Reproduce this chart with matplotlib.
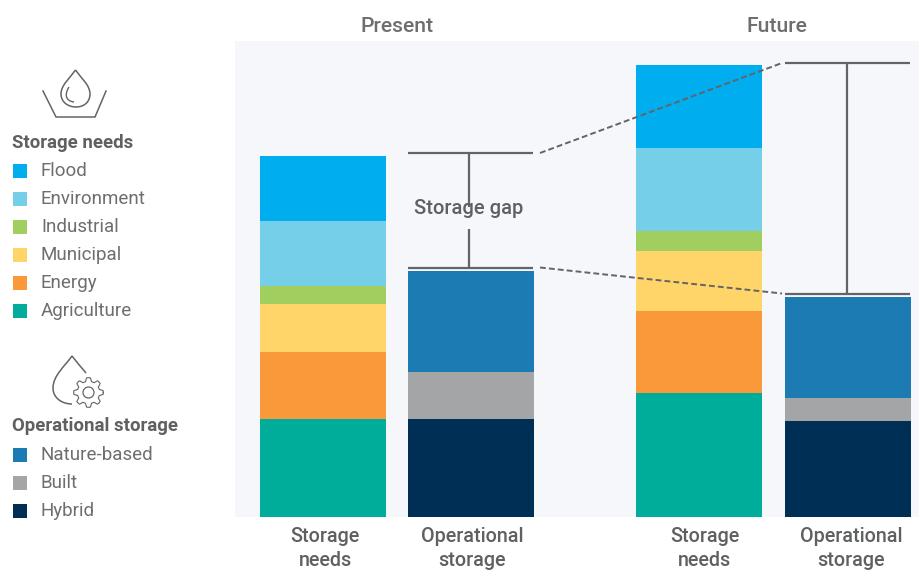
import numpy as np
import matplotlib
matplotlib.use("Agg")
import matplotlib.pyplot as plt
from matplotlib.patches import PathPatch, Circle, Rectangle
from matplotlib.path import Path

plt.rcParams['font.family'] = ['Roboto', 'DejaVu Sans']

# --- data (heights, bottom to top) ---
needs_names = ['Agriculture', 'Energy', 'Municipal', 'Industrial', 'Environment', 'Flood']
needs_colors = ['#00AC9A', '#F99939', '#FFD468', '#A0CF5F', '#76CFE8', '#00AEEF']
needs_present = [98, 67, 48, 18, 65, 65]
needs_future = [124, 82, 60, 20, 83, 83]

oper_names = ['Hybrid', 'Built', 'Nature-based']
oper_colors = ['#002F56', '#A3A5A6', '#1C7BB3']
oper_present = [98, 47, 101]
oper_future = [96, 23, 101]

bar_x = [323, 471, 699, 848]
tick_x = [325, 472, 704.5, 851]
tick_labels = ['Storage\nneeds', 'Operational\nstorage', 'Storage\nneeds', 'Operational\nstorage']
gap_present = (249.5, 364)
gap_future = (223.5, 454)

GREY = '#5E6062'
LINE = '#636466'

W, H = 920, 570
fig = plt.figure(figsize=(W / 100, H / 100), dpi=100)

# main chart, one data unit is one pixel
ax = fig.add_axes([235 / W, 1 - 517 / H, (W - 235) / W, 476 / H])
ax.set_xlim(235, W)
ax.set_ylim(0, 476)
ax.set_facecolor('#F5F7FA')
for s in ax.spines.values():
    s.set_visible(False)
ax.set_yticks([])
ax.set_xticks(tick_x)
ax.set_xticklabels(tick_labels, fontsize=14.2, color=GREY, fontweight='medium', linespacing=1.3)
ax.tick_params(axis='x', length=0, pad=7.5)


def stack(x, values, colors):
    bottom = 0
    for v, c in zip(values, colors):
        ax.bar(x, v, width=126, bottom=bottom, color=c, linewidth=0)
        bottom += v
    return bottom


stack(bar_x[0], needs_present, needs_colors)
stack(bar_x[1], oper_present, oper_colors)
stack(bar_x[2], needs_future, needs_colors)
stack(bar_x[3], oper_future, oper_colors)

# --- gap brackets ---
lw = 1.6
ax.hlines(gap_present, 408.5, 533, color=LINE, lw=lw)
ax.vlines(bar_x[1] - 2, gap_present[1] - 54, gap_present[1], color=LINE, lw=lw)
ax.vlines(bar_x[1] - 2, gap_present[0], gap_present[0] + 39, color=LINE, lw=lw)
ax.text(468.5, 309, 'Storage gap', ha='center', va='center', fontsize=14.5, color=GREY, fontweight='medium')
ax.hlines(gap_future, 785.5, 910, color=LINE, lw=lw)
ax.vlines(bar_x[3] - 1, gap_future[0], gap_future[1], color=LINE, lw=lw)
ax.plot([540, 782], [gap_present[1], gap_future[1]], color=LINE, lw=1.4, dashes=(3, 1.6))
ax.plot([540, 782], [gap_present[0], gap_future[0]], color=LINE, lw=1.4, dashes=(3, 1.6))

# --- overlay in pixel coordinates: headers, legend, icons ---
ov = fig.add_axes([0, 0, 1, 1])
ov.set_xlim(0, W)
ov.set_ylim(H, 0)
ov.axis('off')
ov.patch.set_alpha(0)

ov.text(397, 26, 'Present', ha='center', va='center', fontsize=15.2, color='#6D6E70', fontweight='medium')
ov.text(776.5, 26, 'Future', ha='center', va='center', fontsize=15.2, color='#6D6E70', fontweight='medium')


def legend(title, title_y, names, colors, first_y):
    ov.text(12, title_y, title, ha='left', va='center', fontsize=13.4, color=GREY, fontweight='bold')
    for i, (n, c) in enumerate(zip(names[::-1], colors[::-1])):
        y = first_y + i * 28
        ov.add_patch(Rectangle((13, y - 6.5), 14, 14, color=c, lw=0))
        ov.text(41, y + 1, n, ha='left', va='center', fontsize=13.5, color='#6D6E70')


legend('Storage needs', 143, needs_names, needs_colors, 170)
legend('Operational storage', 426, oper_names, oper_colors, 454.5)

# icon 1: drop in a basin
ov.plot([43, 56, 95, 106], [91, 117, 117, 91], color=LINE, lw=1.1, solid_joinstyle='miter')
drop = Path([(75.5, 70), (70, 78), (61, 85), (61, 94), (61, 102), (68, 107), (76, 107),
             (84, 107), (90, 102), (90, 94), (90, 85), (81, 78), (75.5, 70)],
            [Path.MOVETO] + [Path.CURVE4] * 12)
ov.add_patch(PathPatch(drop, fc='none', ec=LINE, lw=1.1))
inner = Path([(69, 87), (64, 95), (66, 101), (74, 102)], [Path.MOVETO] + [Path.CURVE4] * 3)
ov.add_patch(PathPatch(inner, fc='none', ec=LINE, lw=1.0))

# icon 2: drop with a gear
drop2 = Path([(86, 373), (80, 366), (76, 361), (72, 356), (64, 367), (53, 376), (53, 388),
              (53, 398), (62, 404), (72, 404)],
             [Path.MOVETO] + [Path.CURVE4] * 9)
ov.add_patch(PathPatch(drop2, fc='none', ec=LINE, lw=1.1))
gear_c = (88.5, 392.5)
ang = np.linspace(0, 2 * np.pi, 361)
rad = 13 + 1.8 * np.clip(1.8 * np.cos(8 * ang), -1, 1)
ov.plot(gear_c[0] + rad * np.cos(ang), gear_c[1] + rad * np.sin(ang), color=LINE, lw=0.8)
ov.add_patch(Circle(gear_c, 5.5, fc='none', ec=LINE, lw=0.9))

fig.savefig('out.png', dpi=100)
